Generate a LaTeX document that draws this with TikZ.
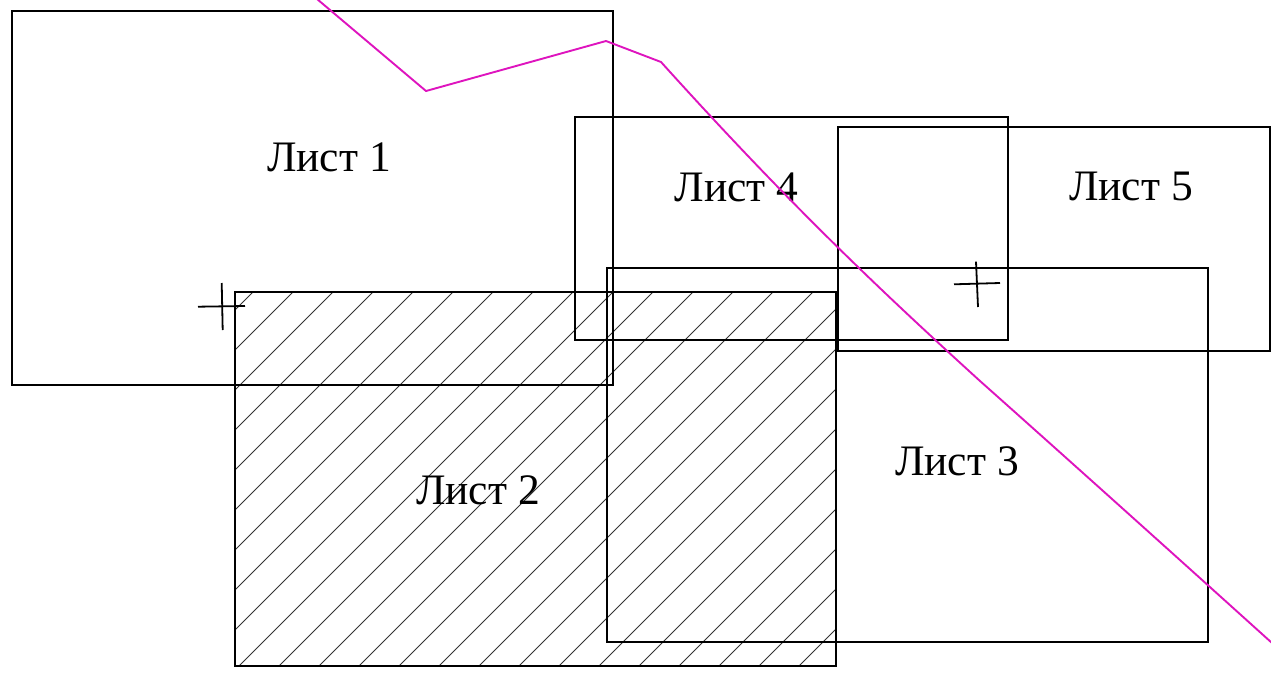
\documentclass[tikz,border=0pt]{standalone}
\usepackage{fontspec}
\setmainfont{Liberation Serif}
\definecolor{routecol}{RGB}{222,20,190}
\begin{document}
\begin{tikzpicture}[x=1pt,y=-1pt,
  sheet/.style={draw=black,line width=1.8pt},
  hatchline/.style={draw=black!80,line width=0.8pt},
  routeline/.style={draw=routecol,line width=1.9pt,line join=round},
  crossline/.style={draw=black,line width=1.8pt},
  lbl/.style={font=\fontsize{43.5}{50}\selectfont,anchor=base,inner sep=0pt}]
\useasboundingbox (0,0) rectangle (1271,675);

% hatching of sheet 2
\begin{scope}
  \clip (235,292) rectangle (836,666);
  \foreach \c in {545,585,...,1505} {
    \draw[hatchline] (\c-666,666) -- (\c-292,292);
  }
\end{scope}

% sheets
\draw[sheet] (12,11) rectangle (613,385);
\draw[sheet] (235,292) rectangle (836,666);
\draw[sheet] (607,268) rectangle (1208,642);
\draw[sheet] (575,117) rectangle (1008,340);
\draw[sheet] (838,127) rectangle (1270,351);

% labels
\node[lbl] (l1) at (329,171.7) {Лист 1};
\node[lbl] (l2) at (478,504) {Лист 2};
\node[lbl] (l3) at (957,475) {Лист 3};
\node[lbl] (l4) at (736.7,201.7) {Лист 4};
\node[lbl] (l5) at (1131,200) {Лист 5};

% crosses
\coordinate (c1t) at (221.7,283);
\coordinate (c1b) at (222.7,330);
\coordinate (c1l) at (198,306.7);
\coordinate (c1r) at (245,306);
\draw[crossline] (c1t) -- (c1b);
\draw[crossline] (c1l) -- (c1r);
\coordinate (c2t) at (976,261.7);
\coordinate (c2b) at (978,307);
\coordinate (c2l) at (954,284.3);
\coordinate (c2r) at (1000,283);
\draw[crossline] (c2t) -- (c2b);
\draw[crossline] (c2l) -- (c2r);

% route
\coordinate (r0) at (317,-1);
\coordinate (r1) at (426,91);
\coordinate (r2) at (606,41);
\coordinate (r3) at (661,62);
\coordinate (r6) at (980,381);
\coordinate (r9) at (1272,643);
\draw[routeline] (r0) -- (r1) -- (r2) -- (r3)
  .. controls (790,205) and (880,290) .. (r6)
  .. controls (1080,470) and (1180,560) .. (r9);
\end{tikzpicture}
\end{document}
